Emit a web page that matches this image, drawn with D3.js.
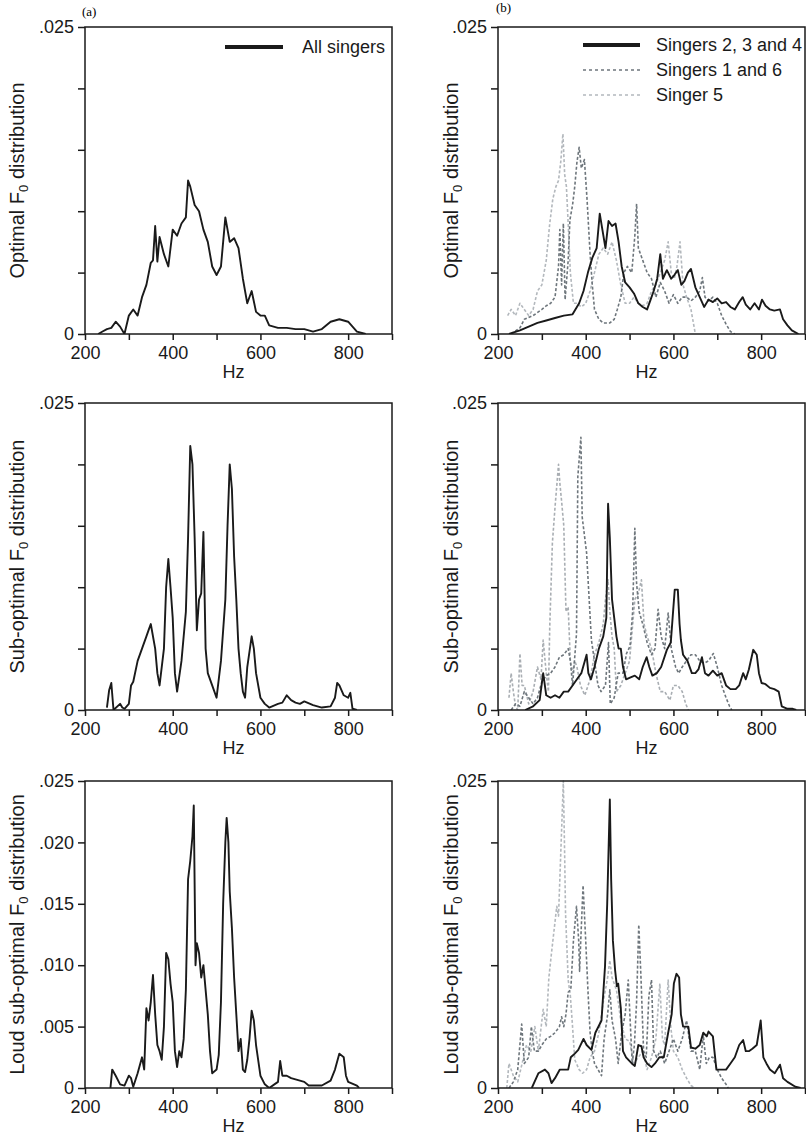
<!DOCTYPE html>
<html><head><meta charset="utf-8">
<script src="https://cdn.jsdelivr.net/npm/d3@7"></script>
<style>body{margin:0;background:#fff}svg{display:block}text{font-family:"Liberation Sans",Arial,sans-serif}</style>
</head><body>
<script>
// values in units of 0.001
const xTicks=[200,300,400,500,600,700,800,900];
const xTickLabels=[200,400,600,800];
const yTicksFull=[0,5,10,15,20,25];
const yLabelsFull=["0",".005",".010",".015",".020",".025"];

const allOptimal=[[230,0],[240,0.2],[250,0.4],[260,0.5],[270,1.0],[280,0.6],[290,0],[300,1.5],[310,2.0],[320,1.5],[330,3.0],[340,4.0],[350,5.8],[355,6.0],[360,8.8],[365,5.9],[370,7.9],[380,6.5],[390,5.5],[400,8.5],[410,8.0],[420,9.0],[430,9.5],[435,12.5],[440,12.0],[450,10.5],[460,10.0],[470,8.5],[480,7.5],[490,5.5],[500,4.8],[510,5.5],[520,9.5],[530,7.5],[540,7.8],[550,7.0],[560,4.5],[570,2.5],[580,3.5],[590,1.8],[600,1.5],[610,1.5],[620,0.7],[640,0.5],[660,0.5],[680,0.4],[700,0.4],[720,0.2],[740,0.4],[760,1.0],[780,1.2],[800,1.0],[820,0.2],[840,0]];
const allSub=[[250,0.2],[255,1.6],[260,2.2],[265,0],[280,0.5],[285,0.2],[290,0.1],[300,0.5],[305,2],[310,2.3],[320,4],[330,5],[340,6],[345,6.5],[350,7],[360,5],[365,3],[370,2],[380,5],[385,10],[390,12.3],[395,10],[400,7.5],[405,3],[410,1.5],[420,4],[430,8],[435,14],[440,21.5],[445,20],[450,14],[455,6.5],[460,9],[465,9.5],[470,14.5],[475,5],[480,3],[490,2],[500,1],[510,4],[520,9],[525,15],[530,20],[535,18],[540,12.5],[545,9],[550,5],[555,3],[560,1.5],[565,1],[570,3.5],[580,6],[585,5],[590,3],[600,1],[610,0.5],[620,0.2],[640,0.5],[650,0.6],[660,1.2],[670,0.8],[680,0.6],[690,0.5],[700,0.7],[720,0.4],[740,0.2],[760,0.3],[770,1],[775,2.2],[780,2.0],[790,1.2],[800,1],[805,1.4],[810,0.1],[820,0]];
const allLoud=[[258,0],[262,1.5],[270,1],[280,0.3],[290,0.2],[300,1],[305,0.8],[310,0.1],[320,1.2],[330,2.5],[335,1.5],[340,6.5],[345,5.5],[350,7],[355,9.2],[360,6],[365,3.5],[370,3],[375,2.3],[380,5],[385,11],[390,10.5],[395,8.5],[400,7],[405,3],[410,1.7],[415,3],[420,2.5],[425,4],[430,8],[435,17],[440,18.5],[445,20.5],[448,23],[452,10],[455,11.8],[460,11],[465,9],[470,10],[480,6],[485,3],[490,1.2],[500,1.5],[505,2.7],[510,7],[515,15],[520,20],[523,22],[527,20],[530,16],[535,13],[540,9],[545,6],[550,3],[555,4],[560,1.5],[565,1.3],[570,2.3],[575,4],[580,6.3],[585,5.5],[590,3.5],[600,1],[610,0.3],[620,0],[640,0.5],[645,2.2],[650,1],[660,1],[670,0.8],[680,0.7],[700,0.5],[710,0.2],[740,0.2],[760,0.6],[770,1.5],[780,2.8],[790,2.5],[795,1],[800,0.5],[820,0.2],[825,0]];

const s234Optimal=[[225,0],[250,0.3],[270,0.6],[290,0.9],[310,1.1],[330,1.3],[350,1.5],[370,1.6],[385,2.5],[395,3.5],[405,5],[415,6.2],[425,7],[432,9.8],[438,8.5],[445,7],[452,9.2],[460,8.8],[468,9],[475,7.5],[482,5.5],[490,4.2],[500,3.8],[510,3.3],[520,2.5],[530,2.2],[540,2.0],[548,2.8],[555,3.5],[563,4.5],[570,6.5],[576,4.5],[585,5.2],[595,4.5],[602,4.8],[610,5.2],[618,4.0],[625,4.3],[633,5.0],[640,5.3],[650,3.8],[660,3.0],[670,2.2],[680,2.8],[690,2.6],[700,2.9],[710,2.5],[720,2.6],[730,2.2],[740,2.0],[750,2.6],[758,3.0],[765,2.4],[775,2.0],[785,2.5],[795,2.0],[802,2.8],[810,2.3],[820,2.0],[830,1.9],[843,2.0],[850,1.2],[860,0.7],[870,0.3],[885,0]];
const s16Optimal=[[230,0],[250,0.5],[260,1.2],[280,1.5],[300,2],[310,2.3],[320,2.5],[330,3],[338,5.5],[341,8.5],[345,4],[349,9],[353,2.8],[360,6],[364,9.3],[370,10.5],[375,12],[380,14],[385,15.2],[390,13.5],[397,14.2],[403,11],[410,6.5],[415,4],[420,2],[430,1.2],[440,0.9],[455,0.9],[465,1.2],[472,2],[480,3],[487,5],[495,5.5],[505,5],[512,8],[516,10.6],[520,7],[525,6.5],[530,6],[540,5],[550,4.5],[560,3],[570,4.2],[580,3.5],[590,2.5],[600,3.2],[610,2.5],[620,3],[630,3],[640,2.7],[650,3],[660,3.5],[666,4.6],[672,3],[680,2.7],[690,3],[700,2.5],[710,1.5],[720,0.8],[730,0.2],[740,0]];
const s5Optimal=[[222,1.5],[230,2.0],[240,1.5],[250,2.5],[260,2],[270,1.5],[280,2],[290,3.5],[300,4],[310,6],[318,9],[325,11],[332,12],[338,12.5],[343,14],[348,16.3],[352,13],[356,12],[360,9],[365,5],[372,2.5],[380,2.5],[390,2.2],[400,2.5],[410,3.5],[420,5],[430,6.5],[440,7],[450,6.5],[460,7.5],[470,6],[480,4],[490,2.5],[500,2.5],[510,3],[520,2.5],[530,2.3],[540,2.5],[550,3.5],[560,4],[570,5],[580,6],[588,7.5],[595,5],[602,4.5],[608,5.5],[615,7.5],[622,4],[630,3],[640,2],[645,1],[650,0]];

const s234Sub=[[262,0],[280,0.3],[295,0.8],[303,3],[310,1.2],[320,1],[330,1.2],[340,1],[350,1.5],[360,1.5],[370,2],[380,2.5],[390,3],[402,4.5],[406,3],[412,2.5],[420,3.5],[430,5],[440,6],[447,7.5],[451,16.8],[455,14],[460,9],[465,7.5],[470,6],[475,5],[480,5],[485,3.5],[492,2.5],[505,2.7],[512,2.8],[522,2.5],[530,3.5],[539,4.3],[545,3.5],[552,2.8],[562,3],[572,3.5],[585,4.9],[594,5.5],[600,8.4],[603,9.8],[610,9.8],[614,7],[617,5.7],[622,4.5],[632,4],[642,3],[650,3],[657,3.3],[665,4.3],[672,3],[680,2.8],[690,3.2],[700,2.8],[710,3],[720,2],[730,1.7],[742,1.7],[750,2],[759,3],[765,2.5],[772,3.3],[782,4.9],[790,4.5],[795,3],[801,2.2],[810,2.1],[820,1.8],[830,1.7],[840,1.5],[847,0.3],[860,0.1],[872,0.1],[880,0]];
const s16Sub=[[230,0],[240,0.5],[250,0.3],[260,1.5],[270,1],[280,0.5],[290,1],[300,2.3],[310,2.8],[320,3],[330,3.5],[340,4.3],[350,4.5],[360,5],[365,4],[370,2],[379,6.2],[382,19],[389,22.2],[392,15.7],[402,12.8],[413,5.7],[420,4],[428,2],[435,1.5],[445,2],[452,5.5],[456,0.5],[465,1],[474,3],[485,3],[493,4.6],[501,5.2],[507,8],[512,14.8],[516,10.3],[522,8],[530,7],[540,5.5],[550,4.5],[558,5],[565,8.2],[572,6],[580,5],[588,7.9],[595,5],[605,3.5],[612,3],[620,3.5],[630,4],[640,4.5],[650,4.5],[660,4],[670,3.8],[680,4],[691,4.6],[700,3.5],[710,2],[720,1],[728,0.3],[733,0]];
const s5Sub=[[225,1],[230,3],[235,1.5],[240,0.3],[245,0],[250,4.6],[255,2],[260,2],[270,0.5],[280,1.5],[290,3.5],[298,2.5],[303,5.7],[310,3],[315,1.5],[318,6.8],[324,13.6],[330,16.5],[338,20],[341,18.5],[345,17],[350,15],[355,8],[360,8.4],[365,4],[370,3],[375,4],[380,3.5],[388,2],[398,1.2],[410,2.5],[420,4.5],[430,5.5],[440,7],[445,9],[451,10.6],[455,8],[460,6],[465,5],[470,1.5],[480,2],[490,3],[500,4],[512,9],[520,9.5],[527,10.6],[533,7],[540,6],[550,5],[560,3],[570,1.5],[580,1.5],[592,0.8],[600,2],[610,2],[620,1.5],[628,0.5],[634,0]];

const s234Loud=[[277,0],[292,1.2],[307,1.5],[315,1.2],[322,0.4],[330,0.8],[341,1.5],[350,1.5],[360,1.5],[366,2.5],[375,2.8],[383,3.1],[395,4],[402,3.5],[413,3.1],[422,4.5],[436,5.5],[444,9.9],[449,15],[455,23.5],[458,17],[462,12],[467,9.6],[471,8.3],[474,8.5],[480,6.5],[485,3],[492,2.5],[505,2.0],[512,1.8],[520,3.5],[527,3.4],[532,2.5],[540,2],[550,1.7],[558,2],[568,2.5],[578,2.5],[588,4.5],[596,6],[601,8.5],[607,9.3],[613,9],[617,6],[622,5],[634,5],[640,3.3],[650,3.2],[660,3.5],[668,4.5],[676,4.2],[680,4.6],[690,4.2],[698,1.5],[710,1.5],[720,1.5],[730,2],[740,2.5],[750,3.5],[759,3.9],[765,3],[772,3],[780,3.2],[790,3.5],[799,5.5],[805,2.5],[812,2.0],[820,1.5],[831,1.2],[843,1.9],[850,0.8],[860,0.5],[878,0.1],[890,0]];
const s16Loud=[[225,0],[235,0.5],[245,1.5],[254,5.2],[260,2],[270,2.5],[276,5],[283,3],[292,3],[300,3.5],[310,4],[320,4.2],[330,4.5],[340,5],[345,5.8],[350,5],[355,6],[360,7.8],[366,8],[372,12],[379,14.8],[384,12],[386,9.5],[389,12.3],[394,16.5],[400,12],[405,8],[410,4.5],[415,3],[420,2],[428,1.5],[436,1],[442,4],[450,6],[455,8],[460,5.5],[468,4],[474,2],[482,4.5],[490,6],[497,8.8],[502,5],[506,2],[511,3.5],[516,7],[521,13.3],[526,9],[532,3],[538,2.5],[544,7.5],[550,8.8],[555,3],[562,2.5],[570,3],[580,2],[590,3],[600,4],[610,3],[620,4],[630,5.5],[640,3],[650,3],[660,1.5],[668,4.3],[675,2],[682,2.5],[690,2.5],[700,1.5],[710,0.8],[720,0.3],[725,0]];
const s5Loud=[[220,0],[225,2],[235,1],[245,0.5],[255,2],[265,3.5],[275,3],[284,5],[292,3],[303,6.4],[310,5],[316,9],[322,11],[334,14.8],[338,14],[342,18],[346,22],[349,25],[352,19],[354,14.2],[360,8.8],[365,7.5],[370,5],[375,2.3],[385,1.5],[393,1.2],[402,1.5],[410,2.5],[420,3],[430,4.5],[440,7],[450,9],[455,10.4],[460,9],[470,8],[480,5.5],[490,4],[500,3.8],[510,2],[520,2.5],[530,3],[540,1.5],[550,2.5],[560,4],[569,8.5],[575,4],[580,3.5],[588,8.8],[594,5],[600,3],[610,2.5],[620,1.5],[630,0.8],[640,0.2],[649,0]];

const panels=[
 {col:0,row:0,label:"Optimal",lines:[{d:allOptimal,c:"#1a1a1a",dash:null}]},
 {col:0,row:1,label:"Sub-optimal",lines:[{d:allSub,c:"#1a1a1a",dash:null}]},
 {col:0,row:2,label:"Loud sub-optimal ",full:true,lines:[{d:allLoud,c:"#1a1a1a",dash:null}]},
 {col:1,row:0,label:"Optimal",lines:[{d:s5Optimal,c:"#b3b8bd",dash:"3,2"},{d:s16Optimal,c:"#6e767c",dash:"3,2"},{d:s234Optimal,c:"#1a1a1a",dash:null}]},
 {col:1,row:1,label:"Sub-optimal",lines:[{d:s5Sub,c:"#a9aeb3",dash:"3,2"},{d:s16Sub,c:"#6e767c",dash:"3,2"},{d:s234Sub,c:"#1a1a1a",dash:null}]},
 {col:1,row:2,label:"Loud sub-optimal",lines:[{d:s5Loud,c:"#b3b8bd",dash:"3,2"},{d:s16Loud,c:"#6e767c",dash:"3,2"},{d:s234Loud,c:"#1a1a1a",dash:null}]}
];
const colX=[[85,392],[498,805]];
const rowY=[[27,334],[403,710],[781,1088]];
const ylabX=[17,451];

const svg=d3.select("body").append("svg").attr("width",806).attr("height",1140);
panels.forEach((p,i)=>{
  const [x0,x1]=colX[p.col],[y0,y1]=rowY[p.row];
  const x=d3.scaleLinear().domain([200,900]).range([x0,x1]);
  const y=d3.scaleLinear().domain([0,25]).range([y1,y0]);
  const g=svg.append("g");
  g.append("clipPath").attr("id","c"+i).append("rect").attr("x",x0).attr("y",y0-1).attr("width",x1-x0).attr("height",y1-y0+1);
  const line=d3.line().x(d=>x(d[0])).y(d=>y(d[1]));
  p.lines.forEach(l=>{
    g.append("path").attr("d",line(l.d)).attr("fill","none").attr("stroke",l.c)
     .attr("stroke-width",l.dash?1.6:1.9).attr("stroke-dasharray",l.dash).attr("stroke-linejoin","round").attr("clip-path","url(#c"+i+")");
  });
  g.append("rect").attr("x",x0).attr("y",y0).attr("width",x1-x0).attr("height",y1-y0).attr("fill","none").attr("stroke","#1a1a1a").attr("stroke-width",1.5);
  const xa=g.append("g").attr("transform",`translate(0,${y1})`).call(d3.axisBottom(x).tickValues(xTicks).tickSize(6).tickFormat(d=>xTickLabels.includes(d)?d:""));
  const ya=g.append("g").attr("transform",`translate(${x0},0)`).call(d3.axisLeft(y).tickValues(yTicksFull).tickSize(7)
     .tickFormat(d=>p.full?yLabelsFull[yTicksFull.indexOf(d)]:(d===0?"0":d===25?".025":"")));
  [xa,ya].forEach(a=>{a.select(".domain").remove();a.selectAll("line").attr("stroke","#1a1a1a").attr("stroke-width",1.5);
    a.selectAll("text").attr("fill","#1a1a1a").style("font-size","18px").style("font-family","'Liberation Sans',Arial,sans-serif");});
  xa.selectAll("text").attr("dy","0.9em");
  ya.selectAll("text").attr("dx","-0.05em");
  g.append("text").attr("x",(x0+x1)/2-5).attr("y",y1+44).attr("text-anchor","middle").style("font-size","18px").attr("fill","#1a1a1a").text("Hz");
  const t=g.append("text").attr("transform",`translate(${ylabX[p.col]+7},${(y0+y1)/2}) rotate(-90)`).attr("text-anchor","middle").style("font-size","20px").attr("fill","#1a1a1a");
  t.append("tspan").text(p.label+" F");
  t.append("tspan").attr("dy",4).style("font-size","13px").text("0");
  t.append("tspan").attr("dy",-4).text(" distribution");
});
svg.append("text").attr("x",82).attr("y",16).style("font-family","'Liberation Serif',serif").style("font-size","13px").text("(a)");
svg.append("text").attr("x",496).attr("y",12).style("font-family","'Liberation Serif',serif").style("font-size","13px").text("(b)");
// legends
const legA=[{t:"All singers",c:"#1a1a1a",dash:null,w:4}];
const legB=[{t:"Singers 2, 3 and 4",c:"#1a1a1a",dash:null,w:4},{t:"Singers 1 and 6",c:"#6e767c",dash:"3,3",w:1.5},{t:"Singer 5",c:"#b3b8bd",dash:"3,3",w:1.5}];
function legend(items,lx0,lx1,tx,ty0){
  items.forEach((it,k)=>{const yy=ty0+k*25;
    svg.append("line").attr("x1",lx0).attr("x2",lx1).attr("y1",yy).attr("y2",yy).attr("stroke",it.c).attr("stroke-width",it.w).attr("stroke-dasharray",it.dash);
    svg.append("text").attr("x",tx).attr("y",yy+6).style("font-size","18px").attr("fill","#1a1a1a").text(it.t);});
}
legend(legA,225,283,302,47);
legend(legB,583,640,656,45);
</script>
</body></html>
